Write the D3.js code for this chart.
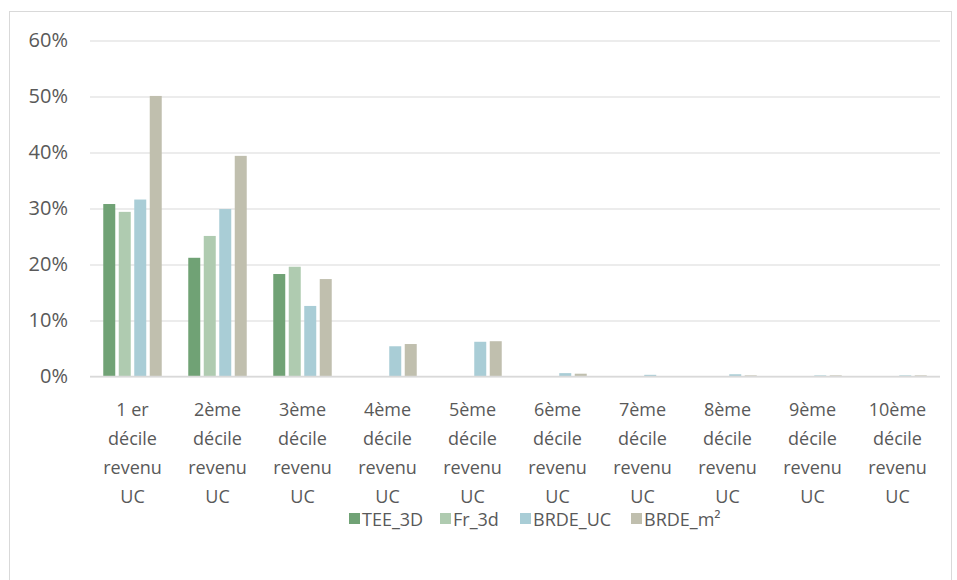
<!DOCTYPE html>
<html><head><meta charset="utf-8">
<script src="https://cdn.jsdelivr.net/npm/d3@7"></script>
<style>
html,body{margin:0;padding:0;background:#fff;}
text{font-family:"Open Sans",sans-serif;fill:#595959;}
</style></head>
<body>
<svg id="chart" width="957" height="580"></svg>
<script>
const categories = ["1 er décile revenu UC","2ème décile revenu UC","3ème décile revenu UC","4ème décile revenu UC","5ème décile revenu UC","6ème décile revenu UC","7ème décile revenu UC","8ème décile revenu UC","9ème décile revenu UC","10ème décile revenu UC"];
const categoryLines = [["1 er","décile","revenu","UC"],["2ème","décile","revenu","UC"],["3ème","décile","revenu","UC"],["4ème","décile","revenu","UC"],["5ème","décile","revenu","UC"],["6ème","décile","revenu","UC"],["7ème","décile","revenu","UC"],["8ème","décile","revenu","UC"],["9ème","décile","revenu","UC"],["10ème","décile","revenu","UC"]];
const seriesNames = ["TEE_3D","Fr_3d","BRDE_UC","BRDE_m²"];
const TEE_3D  = [0.308,0.212,0.183,0,0,0,0,0,0,0];
const Fr_3d   = [0.294,0.251,0.196,0,0,0,0,0,0,0];
const BRDE_UC = [0.316,0.299,0.126,0.054,0.062,0.006,0.003,0.004,0.002,0.002];
const BRDE_m2 = [0.501,0.394,0.174,0.058,0.063,0.005,0.000,0.002,0.002,0.002];
const yTicks = [0,0.1,0.2,0.3,0.4,0.5,0.6];
const colors = ["#70a275","#afcbb0","#a9cdd6","#c0bfae"];

const seriesValues = [TEE_3D, Fr_3d, BRDE_UC, BRDE_m2];
const svg = d3.select("#chart");

// chart border
svg.append("rect").attr("x",9.5).attr("y",11.5).attr("width",942).attr("height",600)
  .attr("fill","none").attr("stroke","#d9d9d9").attr("stroke-width",1);

const pLeft = 90, pRight = 940, pTop = 40.5, pBottom = 376.5;
const x0 = d3.scaleBand().domain(categories).range([pLeft,pRight]).paddingInner(0.312).paddingOuter(0.156);
const x1 = d3.scaleBand().domain(seriesNames).range([0,x0.bandwidth()]).paddingInner(0.226).paddingOuter(0);
const y = d3.scaleLinear().domain([0,0.6]).range([pBottom,pTop]);

// gridlines
const yAxis = d3.axisLeft(y).tickValues(yTicks).tickFormat(d3.format(".0%")).tickSize(-(pRight-pLeft)).tickPadding(22);
const ga = svg.append("g").attr("transform",`translate(${pLeft},0)`).call(yAxis);
ga.select(".domain").remove();
ga.selectAll(".tick line").attr("stroke","#d9d9d9").attr("stroke-width",1);
ga.selectAll(".tick text").attr("font-size","20px").attr("fill","#595959").attr("font-family","Open Sans, sans-serif");

// bars
const groups = svg.append("g").selectAll("g").data(categories).join("g")
  .attr("transform",d=>`translate(${x0(d)},0)`);
groups.selectAll("rect").data((d,i)=>seriesNames.map((s,j)=>({s,v:seriesValues[j][i],j})))
  .join("rect")
  .attr("x",d=>x1(d.s)).attr("width",x1.bandwidth())
  .attr("y",d=>y(d.v)).attr("height",d=>y(0)-y(d.v))
  .attr("fill",d=>colors[d.j]);

// x axis line
svg.append("line").attr("x1",pLeft).attr("x2",pRight).attr("y1",y(0)).attr("y2",y(0))
  .attr("stroke","#d9d9d9").attr("stroke-width",1.3);

// category labels
const lab = svg.append("g").selectAll("text").data(categories).join("text")
  .attr("text-anchor","middle").attr("font-size","18px")
  .attr("transform",d=>`translate(${x0(d)+x0.bandwidth()/2},0)`);
lab.each(function(d,i){
  const t = d3.select(this);
  categoryLines[i].forEach((ln,k)=>{
    t.append("tspan").attr("x",0).attr("y",415.5+k*29).text(ln);
  });
});

// legend
const legendX = [349,440,520,631];
const lg = svg.append("g").selectAll("g").data(seriesNames).join("g")
  .attr("transform",(d,i)=>`translate(${legendX[i]},0)`);
lg.append("rect").attr("x",0).attr("y",513).attr("width",11).attr("height",11).attr("fill",(d,i)=>colors[i]);
lg.append("text").attr("x",13).attr("y",526).attr("font-size","18px").text(d=>d);
</script>
</body></html>
